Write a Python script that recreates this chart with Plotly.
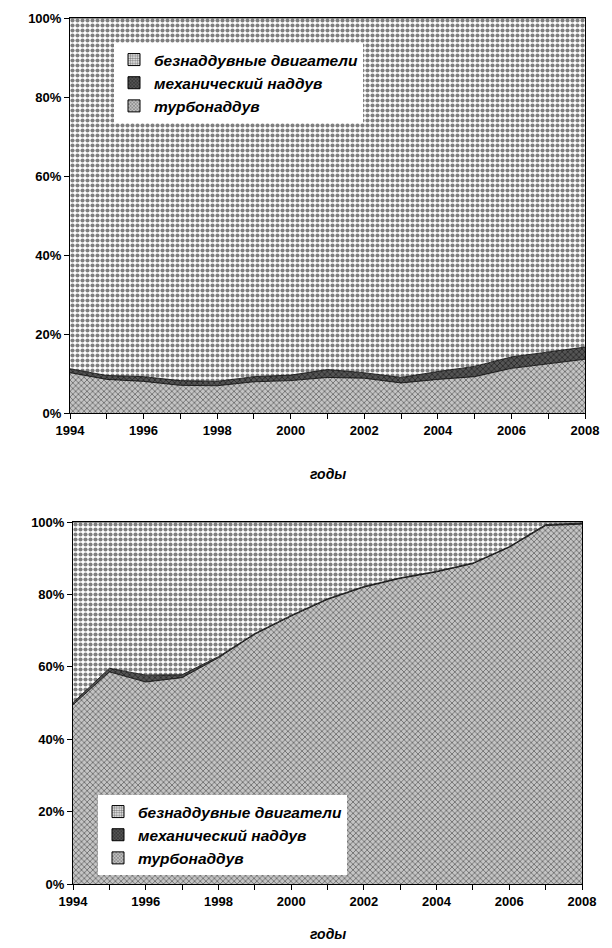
import plotly.graph_objects as go

years = list(range(1994, 2009))

# Top chart (%)
top_turbo = [10.2, 8.5, 8.0, 7.0, 6.9, 7.9, 8.2, 9.0, 8.8, 7.6, 8.5, 9.2, 11.3, 12.4, 13.6]
top_mech = [1.0, 1.0, 1.2, 1.2, 1.1, 1.3, 1.4, 2.0, 1.4, 1.4, 2.0, 2.6, 2.9, 3.1, 3.1]

# Bottom chart (%)
bot_turbo = [49.5, 58.6, 55.8, 57.0, 62.5, 69.0, 74.0, 78.6, 82.0, 84.4, 86.2, 88.5, 93.0, 99.0, 99.4]
bot_mech = [0.6, 1.0, 1.9, 0.8, 0.3, 0.2, 0.2, 0.2, 0.2, 0.2, 0.2, 0.2, 0.2, 0.3, 0.3]

names = ["турбонаддув", "механический наддув", "безнаддувные двигатели"]

top_rest = [100 - a - b for a, b in zip(top_turbo, top_mech)]
bot_rest = [100 - a - b for a, b in zip(bot_turbo, bot_mech)]

# page body has an 8px margin, so the figure is drawn 8px in from the corner
OFF = 8
W, H = 612 - OFF, 948 - OFF

def px_x(a, b):
    return [(a - OFF) / W, (b - OFF) / W]

def px_y(top, bottom):
    return [1 - (bottom - OFF) / H, 1 - (top - OFF) / H]

def pxx(a):
    return (a - OFF) / W

def pxy(a):
    return 1 - (a - OFF) / H

pat_turbo = dict(shape="x", fgcolor="#000000", bgcolor="#c4c4c4", size=4, solidity=0.35)
pat_mech = dict(shape="x", fgcolor="#000000", bgcolor="#555555", size=4, solidity=0.4)
pat_rest = dict(shape=".", fgcolor="#000000", bgcolor="#ffffff", size=5, solidity=0.55)
pats = [pat_turbo, pat_mech, pat_rest]

fig = go.Figure()

for i, (vals, name) in enumerate(zip([top_turbo, top_mech, top_rest], names)):
    fig.add_trace(go.Scatter(
        x=years, y=vals, name=name, stackgroup="top", mode="lines",
        line=dict(color="#000000", width=0.8), fillpattern=pats[i],
        fillcolor="#ffffff", xaxis="x", yaxis="y", showlegend=False,
    ))

for i, (vals, name) in enumerate(zip([bot_turbo, bot_mech, bot_rest], names)):
    fig.add_trace(go.Scatter(
        x=years, y=vals, name=name, stackgroup="bot", mode="lines",
        line=dict(color="#000000", width=0.8), fillpattern=pats[i],
        fillcolor="#ffffff", xaxis="x2", yaxis="y2", showlegend=False,
    ))

# legend swatches (empty bar traces give small square pattern swatches)
for lg, xa, ya in [("legend", "x", "y"), ("legend2", "x2", "y2")]:
    for i, name in enumerate(names):
        fig.add_trace(go.Bar(
            x=[None], y=[None], name=name, xaxis=xa, yaxis=ya, legend=lg,
            marker=dict(color="#ffffff", pattern=dict(
                shape=pats[i]["shape"], fgcolor=pats[i]["fgcolor"],
                bgcolor=pats[i]["bgcolor"], size=3, solidity=pats[i]["solidity"]),
                line=dict(color="#000000", width=1)),
            showlegend=True,
        ))

ticktext = [str(y) if (y - 1994) % 2 == 0 else "" for y in years]
tickfont = dict(family="Liberation Sans, Arial", size=13, color="#000000", weight="bold")

common_x = dict(range=[1994, 2008], tickvals=years, ticktext=ticktext, ticks="outside",
                ticklen=5, tickwidth=1, tickcolor="#000", showline=True, linecolor="#000",
                linewidth=1, mirror=True, showgrid=False, zeroline=False,
                tickfont=tickfont, automargin=False, fixedrange=True)
common_y = dict(range=[0, 100], tickvals=[0, 20, 40, 60, 80, 100],
                ticktext=["0%", "20%", "40%", "60%", "80%", "100%"], ticks="outside",
                ticklen=5, tickwidth=1, tickcolor="#000", showline=True, linecolor="#000",
                linewidth=1, mirror=True, showgrid=False, zeroline=False,
                tickfont=tickfont, automargin=False, fixedrange=True)

legfont = dict(family="Liberation Sans, Arial", size=15.5, color="#000000",
               weight="bold", style="italic")

fig.update_layout(
    width=W, height=H, margin=dict(l=0, r=0, t=0, b=0),
    paper_bgcolor="#ffffff", plot_bgcolor="#ffffff",
    xaxis=dict(domain=px_x(70, 585), anchor="y", **common_x),
    yaxis=dict(domain=px_y(18, 413), anchor="x", **common_y),
    xaxis2=dict(domain=px_x(73, 582), anchor="y2", **common_x),
    yaxis2=dict(domain=px_y(522, 884), anchor="x2", **common_y),
    legend=dict(x=pxx(114), y=pxy(43), xanchor="left", yanchor="top",
                bgcolor="#ffffff", traceorder="reversed", font=legfont,
                itemwidth=30, tracegroupgap=0),
    legend2=dict(x=pxx(98), y=pxy(795), xanchor="left", yanchor="top",
                 bgcolor="#ffffff", traceorder="reversed", font=legfont,
                 itemwidth=30, tracegroupgap=0),
    showlegend=True,
    annotations=[
        dict(text="годы", x=pxx(328), y=pxy(474), xref="paper", yref="paper",
             showarrow=False, font=dict(legfont, size=14), xanchor="center", yanchor="middle"),
        dict(text="годы", x=pxx(328), y=pxy(934), xref="paper", yref="paper",
             showarrow=False, font=dict(legfont, size=14), xanchor="center", yanchor="middle"),
    ],
)

fig.write_html("out.html")
